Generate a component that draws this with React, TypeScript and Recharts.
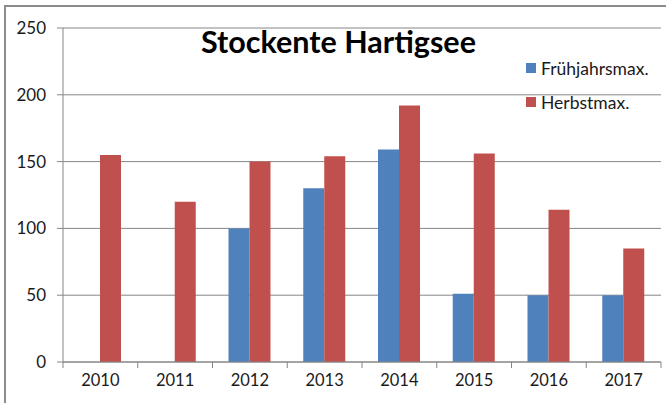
import { Bar, BarChart, CartesianGrid, XAxis, YAxis } from "recharts"

const years = ["2010", "2011", "2012", "2013", "2014", "2015", "2016", "2017"]
const fruehjahr = [null, null, 100, 130, 159, 51, 50, 50]
const herbst = [155, 120, 150, 154, 192, 156, 114, 85]
const yTicks = [0, 50, 100, 150, 200, 250]

const series = [
  { key: "fruehjahr", name: "Frühjahrsmax.", color: "#4F81BD" },
  { key: "herbst", name: "Herbstmax.", color: "#C0504D" },
]

const data = years.map((year, i) => ({
  year,
  fruehjahr: fruehjahr[i],
  herbst: herbst[i],
}))

const W = 666
const H = 403
const margin = { top: 28, right: 5, left: 8, bottom: 11 }
const yAxisWidth = 55
const plotWidth = W - margin.left - margin.right - yAxisWidth
const band = plotWidth / years.length
const font = "Lato, 'Open Sans', sans-serif"
const axisGray = "#868686"

function YearTick(props: any) {
  const { x, y, payload, index } = props
  const last = index === years.length - 1
  return (
    <g>
      <line x1={x - band / 2} x2={x - band / 2} y1={y - 8} y2={y - 2} stroke={axisGray} />
      {last && <line x1={x + band / 2} x2={x + band / 2} y1={y - 8} y2={y - 2} stroke={axisGray} />}
      <text x={x} y={y + 16} textAnchor="middle" fontSize={16.5} fill="#1a1a1a" fontFamily={font}>
        {payload.value}
      </text>
    </g>
  )
}

export default function App() {
  return (
    <div style={{ position: "absolute", left: 0, top: 0, width: W, height: H, background: "#fff" }}>
      <div
        style={{
          position: "absolute",
          left: 4,
          top: 5,
          width: W,
          height: H,
          borderLeft: `2px solid #8c8c8c`,
          borderTop: `2px solid #8c8c8c`,
        }}
      />
      <BarChart width={W} height={H} data={data} margin={margin} barGap={0} barSize={21}>
        <CartesianGrid vertical={false} stroke={axisGray} />
        <XAxis
          dataKey="year"
          height={30}
          stroke={axisGray}
          tickLine={false}
          tick={<YearTick />}
          interval={0}
        />
        <YAxis
          width={yAxisWidth}
          domain={[0, 250]}
          ticks={yTicks}
          stroke={axisGray}
          tickSize={6}
          tickMargin={11}
          tick={{ fontSize: 17, fill: "#1a1a1a", fontFamily: font }}
        />
        {series.map((s) => (
          <Bar key={s.key} dataKey={s.key} name={s.name} fill={s.color} isAnimationActive={false} />
        ))}
      </BarChart>
      <div
        style={{
          position: "absolute",
          left: 0,
          width: 677,
          top: 23,
          textAlign: "center",
          fontFamily: font,
          fontWeight: 700,
          fontSize: 30.5,
          color: "#000",
        }}
      >
        Stockente Hartigsee
      </div>
      <div style={{ position: "absolute", left: 526, top: 51, fontFamily: font, fontSize: 17.5, color: "#1a1a1a" }}>
        {series.map((s) => (
          <div key={s.key} style={{ display: "flex", alignItems: "center", height: 34 }}>
            <span style={{ width: 10, height: 10, background: s.color, marginRight: 5, display: "inline-block" }} />
            {s.name}
          </div>
        ))}
      </div>
    </div>
  )
}
